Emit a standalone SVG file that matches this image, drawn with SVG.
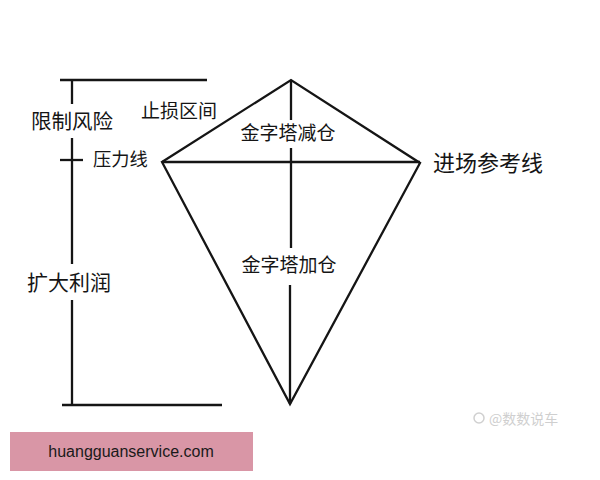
<svg xmlns="http://www.w3.org/2000/svg" width="600" height="480" viewBox="0 0 600 480">
<style>
.ln{stroke:#151515;stroke-width:2.3;fill:none;stroke-linecap:butt;stroke-linejoin:miter}
.t{font-family:"Noto Sans CJK SC","Liberation Sans",sans-serif;fill:#151515}
</style>
<rect width="600" height="480" fill="#ffffff"/>
<g id="connectors">
<path class="ln" d="M60 80 H207"/>
<path class="ln" d="M72 80 V104 M72 138 V264 M72 300 V405"/>
<path class="ln" d="M60 160 H83"/>
<path class="ln" d="M62 405 H222"/>
<path class="ln" d="M162 162 L291 80 L420 163 L290 404 Z"/>
<path class="ln" d="M162 162 H420"/>
<path class="ln" d="M291 80 V120 M291 148 V248 M290 285 V404"/>
</g>
<g id="label-risk"><text class="t" x="31" y="129" font-size="20.5">限制风险</text></g>
<g id="label-stop"><text class="t" x="141" y="118" font-size="19">止损区间</text></g>
<g id="label-pressure"><text class="t" x="93" y="166" font-size="18.3">压力线</text></g>
<g id="label-reduce"><text class="t" x="288" y="140" font-size="19" text-anchor="middle">金字塔减仓</text></g>
<g id="label-entry"><text class="t" x="433" y="171" font-size="22">进场参考线</text></g>
<g id="label-add"><text class="t" x="289" y="272" font-size="19" text-anchor="middle">金字塔加仓</text></g>
<g id="label-profit"><text class="t" x="27" y="290" font-size="21">扩大利润</text></g>
<g id="watermark">
<circle cx="479" cy="418" r="5" fill="none" stroke="#d0d0d0" stroke-width="1.5"/>
<text x="489" y="424" font-size="14" font-family="Noto Sans CJK SC,sans-serif" fill="#cfcfcf">@数数说车</text>
</g>
<g id="banner">
<rect x="10" y="432" width="243" height="39" fill="#d996a6"/>
<text x="131" y="457" font-size="16" font-family="Liberation Sans,Arial,sans-serif" fill="#1a1a1a" text-anchor="middle">huangguanservice.com</text>
</g>
</svg>
